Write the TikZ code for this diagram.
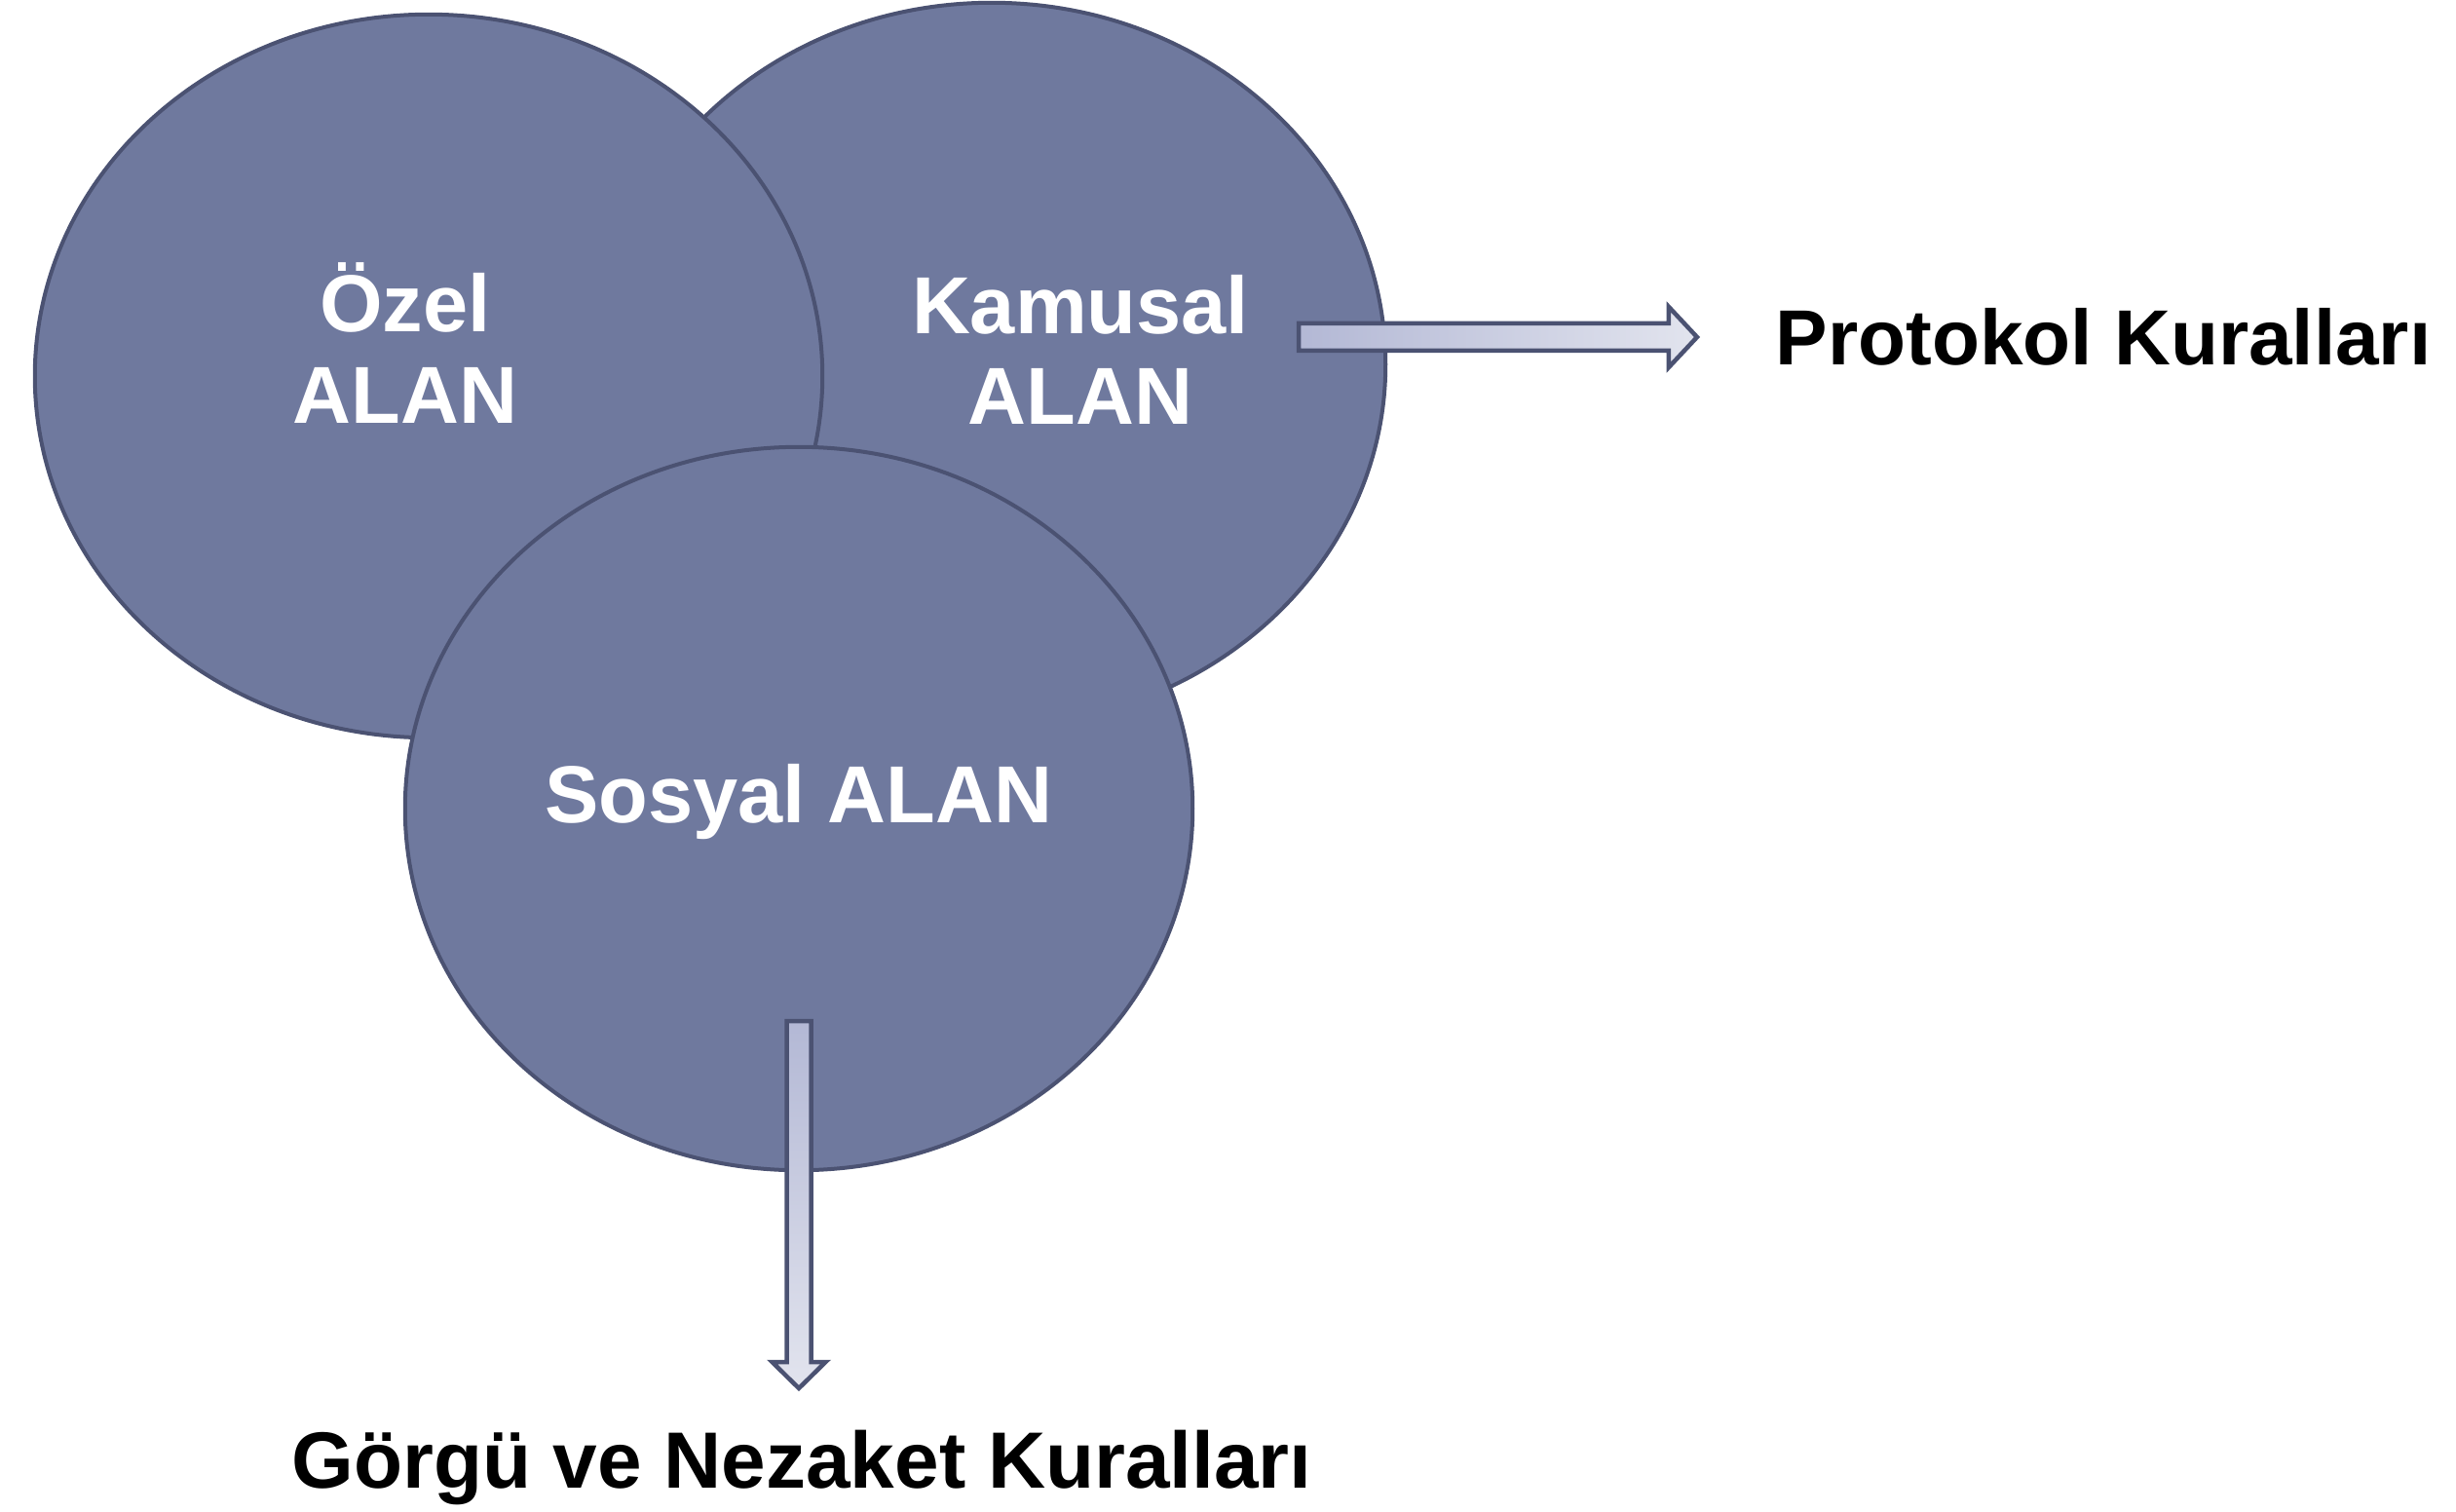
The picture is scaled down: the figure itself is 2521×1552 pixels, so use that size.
\documentclass[tikz,border=0pt]{standalone}
\usepackage{fontspec}
\setmainfont{Liberation Sans}
\usepackage{tikz}
\usetikzlibrary{
    shapes.geometric,
    calc,
    positioning
}
\definecolor{areafill}{RGB}{111,121,158}
\definecolor{arealine}{RGB}{75,82,114}
\definecolor{arrowdark}{RGB}{179,184,213}
\definecolor{arrowlight}{RGB}{226,228,238}

\begin{document}
\begin{tikzpicture}[x=0.01cm, y=-0.01cm,
    area/.style={ellipse, draw=arealine, fill=areafill, line width=0.04cm,
        minimum width=8.08cm, minimum height=7.42cm, inner sep=0pt},
    areatext/.style={text=white, align=center, inner sep=0pt,
        font=\bfseries\fontsize{23.6pt}{26.5pt}\selectfont},
    rules/.style={text=black, inner sep=0pt,
        font=\bfseries\fontsize{22.8pt}{26.5pt}\selectfont},
    harrow/.style={draw=arealine, line width=0.045cm, line join=miter,
        left color=arrowdark, right color=arrowlight},
    varrow/.style={draw=arealine, line width=0.045cm, line join=miter,
        top color=arrowdark, bottom color=arrowlight}]
    \useasboundingbox (0,0) rectangle (2521,1552);
    % the three areas
    \node[area] (kamusal) at (1018, 374) {};
    \node[area] (ozel) at (440, 386) {};
    \node[area] (sosyal) at (820, 830) {};
    \node[areatext] (ozeltext) at (416, 352) {Özel\\ALAN};
    \node[areatext] (kamusaltext) at (1109, 359) {Kamusal\\ALAN};
    \node[areatext] (sosyaltext) at (820, 823) {Sosyal ALAN};
    % rules
    \node[rules, anchor=west] (protokol) at (1822, 346) {Protokol Kuralları};
    \node[rules, anchor=base, font=\bfseries\fontsize{23.3pt}{26.5pt}\selectfont]
        (gorgu) at (823, 1527) {Görgü ve Nezaket Kuralları};
    % arrows
    \coordinate (kamusalout) at (1333, 346);
    \coordinate (protokoltip) at ([xshift=-0.8cm]protokol.west);
    \coordinate (sosyalout) at (820, 1048);
    \coordinate (gorgutip) at (820, 1425);
    \draw[harrow] ($(kamusalout)+(0,-14)$) -- ($(protokoltip)+(-29,-14)$)
        -- ($(protokoltip)+(-29,-31)$) -- (protokoltip)
        -- ($(protokoltip)+(-29,31)$) -- ($(protokoltip)+(-29,14)$)
        -- ($(kamusalout)+(0,14)$) -- cycle;
    \draw[varrow] ($(sosyalout)+(-12.5,0)$) -- ($(gorgutip)+(-12.5,-27)$)
        -- ($(gorgutip)+(-27.5,-27)$) -- (gorgutip)
        -- ($(gorgutip)+(27.5,-27)$) -- ($(gorgutip)+(12.5,-27)$)
        -- ($(sosyalout)+(12.5,0)$) -- cycle;
\end{tikzpicture}
\end{document}
